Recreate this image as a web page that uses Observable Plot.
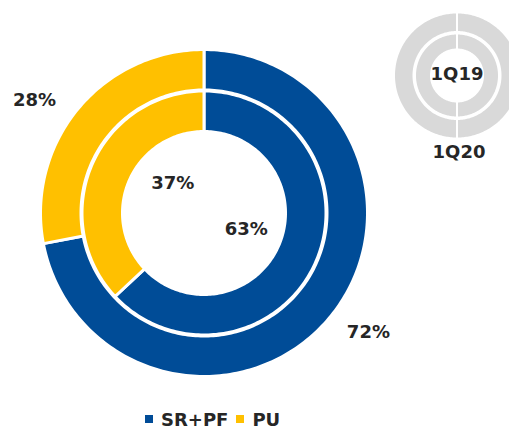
<!DOCTYPE html>
<html><head><meta charset="utf-8">
<script src="https://cdn.jsdelivr.net/npm/d3@7"></script>
<script src="https://cdn.jsdelivr.net/npm/@observablehq/plot@0.6"></script>
<style>
body{margin:0;background:#fff;font-family:"DejaVu Sans",sans-serif;}
#legend{height:38px;display:flex;align-items:center;margin-left:145px;font-weight:bold;font-size:18px;color:#262626;}
#legend .sw{width:8px;height:8px;display:inline-block;margin-right:8px;}
#legend .item{display:flex;align-items:center;margin-right:8px;}
</style>
</head><body>
<div id="chart"></div>
<div id="legend"></div>
<script>
// ---- data ----
const segments = ["SR+PF", "PU"];
const outer1Q20 = [72, 28];   // outer ring (1Q20), %
const inner1Q19 = [63, 37];   // inner ring (1Q19), %
const periods = ["1Q19", "1Q20"];
const iconSplit = [50, 50];
const segColors = ["#004C97", "#FFC000"];

// ---- layout ----
const W = 509, H = 400;
const C = {x: 203.5, y: 212.5};
const I = {x: 456.5, y: 75};
const rad = Math.PI / 180;

function ringPolys(values, cx, cy, r0, r1, tag, colorFn) {
  const arcs = d3.pie().sort(null)(values);
  const pts = [];
  arcs.forEach((a, k) => {
    const n = Math.max(10, Math.ceil((a.endAngle - a.startAngle) / (1.2 * rad)));
    const id = tag + "-" + k, fill = colorFn(k);
    for (let i = 0; i <= n; i++) {
      const t = a.startAngle + (a.endAngle - a.startAngle) * i / n;
      pts.push({x: cx + r1 * Math.sin(t), y: cy - r1 * Math.cos(t), id, fill});
    }
    for (let i = n; i >= 0; i--) {
      const t = a.startAngle + (a.endAngle - a.startAngle) * i / n;
      pts.push({x: cx + r0 * Math.sin(t), y: cy - r0 * Math.cos(t), id, fill});
    }
  });
  return {pts, arcs};
}

const outer = ringPolys(outer1Q20, C.x, C.y, 123, 163.5, "o", k => segColors[k]);
const inner = ringPolys(inner1Q19, C.x, C.y, 81.5, 122, "i", k => segColors[k]);
const iconO = ringPolys(iconSplit, I.x, I.y, 43.5, 63, "io", () => "#D9D9D9");
const iconI = ringPolys(iconSplit, I.x, I.y, 26, 42, "ii", () => "#D9D9D9");

// label positions: mid-angle of each slice, with small nudges
const nudge = {o: [[8, -10], [-13, 17]], i: [[1, -2], [10, -12]]};
function labelsFor(ring, values, r, tag) {
  return ring.arcs.map((a, k) => {
    const m = (a.startAngle + a.endAngle) / 2;
    return {x: C.x + r * Math.sin(m) + nudge[tag][k][0],
            y: C.y - r * Math.cos(m) + nudge[tag][k][1],
            text: values[k] + "%"};
  });
}
const labels = [...labelsFor(outer, outer1Q20, 203, "o"), ...labelsFor(inner, inner1Q19, 45, "i")];
const iconLabels = [
  {x: I.x, y: I.y - 1, text: periods[0]},
  {x: I.x + 2, y: I.y + 77, text: periods[1]}
];

const font = {fontFamily: "DejaVu Sans", fontWeight: "bold", fontSize: 18, fill: "#262626"};

const chart = Plot.plot({
  width: W, height: H, margin: 0,
  x: {domain: [0, W], range: [0, W], axis: null},
  y: {domain: [0, H], range: [0, H], axis: null},
  color: {type: "identity"},
  marks: [
    Plot.line([...outer.pts, ...inner.pts], {x: "x", y: "y", z: "id", fill: "fill", stroke: "white", strokeWidth: 3, curve: "linear-closed"}),
    Plot.line([...iconO.pts, ...iconI.pts], {x: "x", y: "y", z: "id", fill: "fill", stroke: "white", strokeWidth: 2, curve: "linear-closed"}),
    Plot.text(labels, {x: "x", y: "y", text: "text", ...font}),
    Plot.text(iconLabels, {x: "x", y: "y", text: "text", ...font})
  ]
});
document.getElementById("chart").appendChild(chart);

const lg = document.getElementById("legend");
segments.forEach((s, k) => {
  const it = document.createElement("span");
  it.className = "item";
  it.innerHTML = `<span class="sw" style="background:${segColors[k]}"></span><span>${s}</span>`;
  lg.appendChild(it);
});
</script>
</body></html>
